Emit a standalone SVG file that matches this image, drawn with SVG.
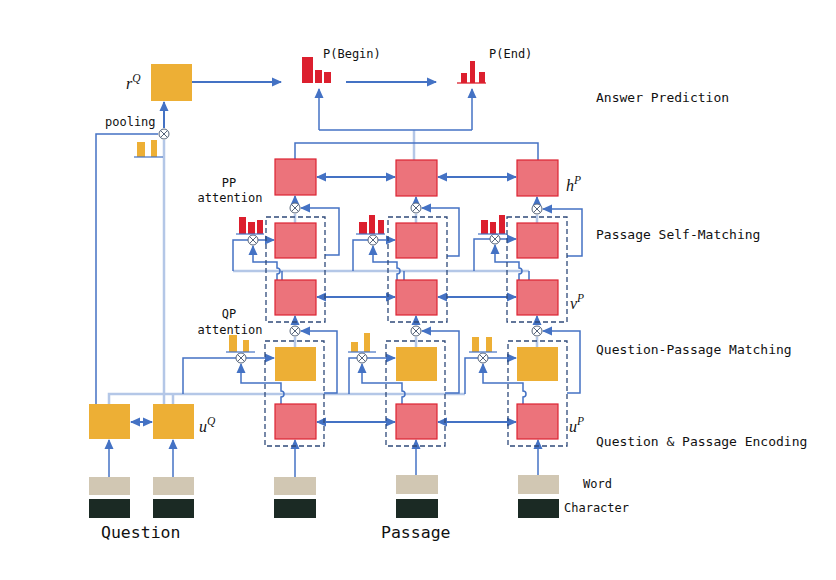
<svg xmlns="http://www.w3.org/2000/svg" width="836" height="580" viewBox="0 0 836 580">
<defs>
<marker id="ah" markerUnits="userSpaceOnUse" markerWidth="10" markerHeight="10" viewBox="0 0 10 10" refX="9" refY="5" orient="auto-start-reverse">
<path d="M0,0.5 L10,5 L0,9.5 Z" fill="#4472C4"/>
</marker>
<style>
.ln{fill:none;stroke:#4472C4;stroke-width:1.5}
.bd{fill:none;stroke:#4472C4;stroke-width:2}
.lt{fill:none;stroke:#B4C7E7;stroke-width:2.5}
.or{fill:#EDAF35}
.rd{fill:#EC737B;stroke:#DD2433;stroke-width:1.2}
.dash{fill:none;stroke:#2F4A7A;stroke-width:1.3;stroke-dasharray:5,3}
.bar{fill:#DC1F2E}
.obar{fill:#EDAF35}
.base{stroke:#4472C4;stroke-width:1.2}
.wd{fill:#D1C7B3}
.ch{fill:#1B2A24}
.t{font-family:"DejaVu Sans Mono","Liberation Mono",monospace;font-size:12px;fill:#111}
.tl{font-family:"DejaVu Sans Mono","Liberation Mono",monospace;font-size:13px;fill:#111}
.tb{font-family:"DejaVu Sans Mono","Liberation Mono",monospace;font-size:16.5px;fill:#111}
.m{font-family:"Liberation Serif",serif;font-style:italic;font-size:16px;fill:#111}
.ms{font-size:11.5px}
</style>
<g id="otimes">
<circle cx="0" cy="0" r="5" fill="#ffffff" stroke="#56647A" stroke-width="1"/>
<path d="M-3.5,-3.5 L3.5,3.5 M-3.5,3.5 L3.5,-3.5" fill="none" stroke="#56647A" stroke-width="1"/>
</g>
</defs>
<rect width="836" height="580" fill="#fff"/>

<g id="connectors">
<path class="lt" d="M109,404 V394 H465"/>
<path class="lt" d="M173,404 V394"/>
<path class="lt" d="M233,271 H529"/>
<path class="lt" d="M164,404 V140"/>
<path class="lt" d="M295,347 V337 M416,347 V337 M537,347 V337"/>
<path class="lt" d="M295,223 V214 M416,223 V214 M537,223 V215"/>
<path class="lt" d="M414,160 V130"/>
<path class="ln" d="M96,404 V134 H158"/>
<path class="bd" d="M164,128 V102" marker-end="url(#ah)"/>
<path class="bd" d="M192,82 H281" marker-end="url(#ah)"/>
<path class="bd" d="M346,82 H436" marker-end="url(#ah)"/>
<path class="ln" d="M319,130 H472"/>
<path class="ln" d="M319,130 V89" marker-end="url(#ah)"/>
<path class="ln" d="M472,130 V89" marker-end="url(#ah)"/>
<path class="ln" d="M295,159 V143 H538 V160"/>
<path class="ln" d="M109,477 V440" marker-end="url(#ah)"/>
<path class="ln" d="M173,477 V440" marker-end="url(#ah)"/>
<path class="ln" d="M295,477 V440" marker-end="url(#ah)"/>
<path class="ln" d="M416,475 V440" marker-end="url(#ah)"/>
<path class="ln" d="M538,475 V440" marker-end="url(#ah)"/>
<path class="bd" d="M131,422 H152" marker-start="url(#ah)" marker-end="url(#ah)"/>
<path class="bd" d="M317,422 H395" marker-start="url(#ah)" marker-end="url(#ah)"/>
<path class="bd" d="M438,422 H516" marker-start="url(#ah)" marker-end="url(#ah)"/>
<path class="bd" d="M317,297 H395" marker-start="url(#ah)" marker-end="url(#ah)"/>
<path class="bd" d="M438,297 H516" marker-start="url(#ah)" marker-end="url(#ah)"/>
<path class="bd" d="M317,177 H395" marker-start="url(#ah)" marker-end="url(#ah)"/>
<path class="bd" d="M438,177 H516" marker-start="url(#ah)" marker-end="url(#ah)"/>
<path class="ln" d="M183,394 V358 H236"/>
<path class="ln" d="M349,394 V358 H357"/>
<path class="ln" d="M465,394 V358 H478"/>
<path class="ln" d="M246,358 H274" marker-end="url(#ah)"/>
<path class="ln" d="M367,358 H395" marker-end="url(#ah)"/>
<path class="ln" d="M488,358 H516" marker-end="url(#ah)"/>
<path class="ln" d="M281,404 V397 A3,3 0 0 0 281,391 V383 H241 V364" marker-end="url(#ah)"/>
<path class="ln" d="M402,404 V397 A3,3 0 0 0 402,391 V383 H362 V364" marker-end="url(#ah)"/>
<path class="ln" d="M523,404 V397 A3,3 0 0 0 523,391 V383 H483 V364" marker-end="url(#ah)"/>
<path class="ln" d="M324,393 H337 V331 H301" marker-end="url(#ah)"/>
<path class="ln" d="M445,393 H459 V331 H422" marker-end="url(#ah)"/>
<path class="ln" d="M567,393 H580 V331 H543" marker-end="url(#ah)"/>
<path class="ln" d="M295,325 V316" marker-end="url(#ah)"/>
<path class="ln" d="M416,325 V316" marker-end="url(#ah)"/>
<path class="ln" d="M537,325 V316" marker-end="url(#ah)"/>
<path class="ln" d="M233,271 V240 H248"/>
<path class="ln" d="M353,271 V240 H368"/>
<path class="ln" d="M474,271 V239 H490"/>
<path class="ln" d="M282,280 V271 M404,280 V271 M529,280 V271"/>
<path class="ln" d="M258,240 H274" marker-end="url(#ah)"/>
<path class="ln" d="M378,240 H395" marker-end="url(#ah)"/>
<path class="ln" d="M500,239 H516" marker-end="url(#ah)"/>
<path class="ln" d="M277,280 V274 A3,3 0 0 0 277,268 V262 H253 V246" marker-end="url(#ah)"/>
<path class="ln" d="M397,280 V274 A3,3 0 0 0 397,268 V262 H373 V246" marker-end="url(#ah)"/>
<path class="ln" d="M519,280 V274 A3,3 0 0 0 519,268 V262 H495 V245" marker-end="url(#ah)"/>
<path class="ln" d="M325,255 H339 V208 H301" marker-end="url(#ah)"/>
<path class="ln" d="M447,256 H459 V208 H422" marker-end="url(#ah)"/>
<path class="ln" d="M567,256 H582 V209 H543" marker-end="url(#ah)"/>
<path class="ln" d="M295,202 V196" marker-end="url(#ah)"/>
<path class="ln" d="M416,202 V197" marker-end="url(#ah)"/>
<path class="ln" d="M537,203 V197" marker-end="url(#ah)"/>
</g>

<g id="dashed-groups">
<rect class="dash" x="265" y="341" width="59" height="105"/>
<rect class="dash" x="386" y="341" width="59" height="105"/>
<rect class="dash" x="508" y="341" width="59" height="105"/>
<rect class="dash" x="266" y="217" width="59" height="105"/>
<rect class="dash" x="388" y="217" width="59" height="105"/>
<rect class="dash" x="507" y="217" width="60" height="105"/>
</g>

<g id="node-rQ"><rect class="or" x="151" y="64" width="41" height="37"/>
<text class="m" x="126" y="89">r<tspan class="ms" dy="-7">Q</tspan></text></g>
<g id="node-q1"><rect class="or" x="89" y="404" width="41" height="35"/></g>
<g id="node-q2"><rect class="or" x="153" y="404" width="41" height="35"/>
<text class="m" x="199" y="432">u<tspan class="ms" dy="-7">Q</tspan></text></g>
<g id="node-u1"><rect class="rd" x="275" y="404" width="41" height="35"/></g>
<g id="node-u2"><rect class="rd" x="396" y="404" width="41" height="35"/></g>
<g id="node-u3"><rect class="rd" x="517" y="404" width="41" height="35"/>
<text class="m" x="569" y="432">u<tspan class="ms" dy="-7">P</tspan></text></g>
<g id="node-qp1"><rect class="or" x="275" y="347" width="41" height="34"/></g>
<g id="node-qp2"><rect class="or" x="396" y="347" width="41" height="34"/></g>
<g id="node-qp3"><rect class="or" x="517" y="347" width="41" height="34"/></g>
<g id="node-v1"><rect class="rd" x="275" y="280" width="41" height="35"/></g>
<g id="node-v2"><rect class="rd" x="396" y="280" width="41" height="35"/></g>
<g id="node-v3"><rect class="rd" x="517" y="280" width="41" height="35"/>
<text class="m" x="570" y="309">v<tspan class="ms" dy="-7">P</tspan></text></g>
<g id="node-pp1"><rect class="rd" x="275" y="223" width="41" height="35"/></g>
<g id="node-pp2"><rect class="rd" x="396" y="223" width="41" height="35"/></g>
<g id="node-pp3"><rect class="rd" x="517" y="223" width="41" height="35"/></g>
<g id="node-h1"><rect class="rd" x="275" y="159" width="41" height="36"/></g>
<g id="node-h2"><rect class="rd" x="396" y="160" width="41" height="36"/></g>
<g id="node-h3"><rect class="rd" x="517" y="160" width="41" height="36"/>
<text class="m" x="566" y="191">h<tspan class="ms" dy="-7">P</tspan></text></g>

<g id="ops">
<use href="#otimes" x="164" y="134"/>
<use href="#otimes" x="241" y="358"/>
<use href="#otimes" x="362" y="358"/>
<use href="#otimes" x="483" y="358"/>
<use href="#otimes" x="295" y="331"/>
<use href="#otimes" x="416" y="331"/>
<use href="#otimes" x="537" y="331"/>
<use href="#otimes" x="253" y="240"/>
<use href="#otimes" x="373" y="240"/>
<use href="#otimes" x="495" y="239"/>
<use href="#otimes" x="295" y="208"/>
<use href="#otimes" x="416" y="208"/>
<use href="#otimes" x="537" y="209"/>
</g>

<g id="attention-bars">
<rect class="bar" x="302" y="57" width="11" height="26"/>
<rect class="bar" x="315" y="70" width="7" height="13"/>
<rect class="bar" x="324" y="72" width="7" height="11"/>
<rect class="bar" x="461" y="73" width="6" height="10"/>
<rect class="bar" x="470" y="61" width="5" height="22"/>
<rect class="bar" x="479" y="72" width="6" height="11"/>
<line x1="457" y1="83" x2="486" y2="83" stroke="#DC1F2E" stroke-width="1.3"/>
<rect class="obar" x="137" y="142" width="8" height="15"/>
<rect class="obar" x="151" y="140" width="6" height="17"/>
<line class="base" x1="134" y1="157" x2="163" y2="157"/>
<rect class="bar" x="239" y="217" width="7" height="17"/>
<rect class="bar" x="248" y="222" width="7" height="12"/>
<rect class="bar" x="257" y="220" width="6" height="14"/>
<line class="base" x1="236" y1="234" x2="264" y2="234"/>
<rect class="bar" x="359" y="222" width="8" height="12"/>
<rect class="bar" x="369" y="215" width="6" height="19"/>
<rect class="bar" x="378" y="220" width="6" height="14"/>
<line class="base" x1="356" y1="234" x2="385" y2="234"/>
<rect class="bar" x="481" y="220" width="7" height="14"/>
<rect class="bar" x="490" y="222" width="6" height="12"/>
<rect class="bar" x="499" y="215" width="6" height="19"/>
<line class="base" x1="478" y1="234" x2="507" y2="234"/>
<rect class="obar" x="229" y="335" width="8" height="17"/>
<rect class="obar" x="243" y="340" width="6" height="12"/>
<line class="base" x1="226" y1="352" x2="255" y2="352"/>
<rect class="obar" x="351" y="342" width="7" height="10"/>
<rect class="obar" x="364" y="333" width="6" height="19"/>
<line class="base" x1="348" y1="352" x2="376" y2="352"/>
<rect class="obar" x="472" y="337" width="7" height="15"/>
<rect class="obar" x="486" y="337" width="6" height="15"/>
<line class="base" x1="469" y1="352" x2="497" y2="352"/>
</g>

<g id="embeddings">
<rect class="wd" x="89" y="477" width="41" height="18"/><rect class="ch" x="89" y="499" width="41" height="19"/>
<rect class="wd" x="153" y="477" width="41" height="18"/><rect class="ch" x="153" y="499" width="41" height="19"/>
<rect class="wd" x="274" y="477" width="42" height="18"/><rect class="ch" x="274" y="499" width="42" height="19"/>
<rect class="wd" x="396" y="475" width="42" height="19"/><rect class="ch" x="396" y="499" width="42" height="19"/>
<rect class="wd" x="518" y="475" width="41" height="19"/><rect class="ch" x="518" y="499" width="41" height="19"/>
</g>

<g id="labels">
<text class="t" x="323" y="58">P(Begin)</text>
<text class="t" x="489" y="58">P(End)</text>
<text class="t" x="105" y="126">pooling</text>
<text class="t" x="229" y="187" text-anchor="middle">PP</text>
<text class="t" x="230" y="202" text-anchor="middle">attention</text>
<text class="t" x="229" y="318" text-anchor="middle">QP</text>
<text class="t" x="230" y="334" text-anchor="middle">attention</text>
<text class="tl" x="596" y="102">Answer Prediction</text>
<text class="tl" x="596" y="239">Passage Self-Matching</text>
<text class="tl" x="596" y="354">Question-Passage Matching</text>
<text class="tl" x="596" y="446">Question &amp; Passage Encoding</text>
<text class="t" x="583" y="488">Word</text>
<text class="t" x="564" y="512">Character</text>
<text class="tb" x="101" y="538">Question</text>
<text class="tb" x="381" y="538">Passage</text>
</g>
</svg>
